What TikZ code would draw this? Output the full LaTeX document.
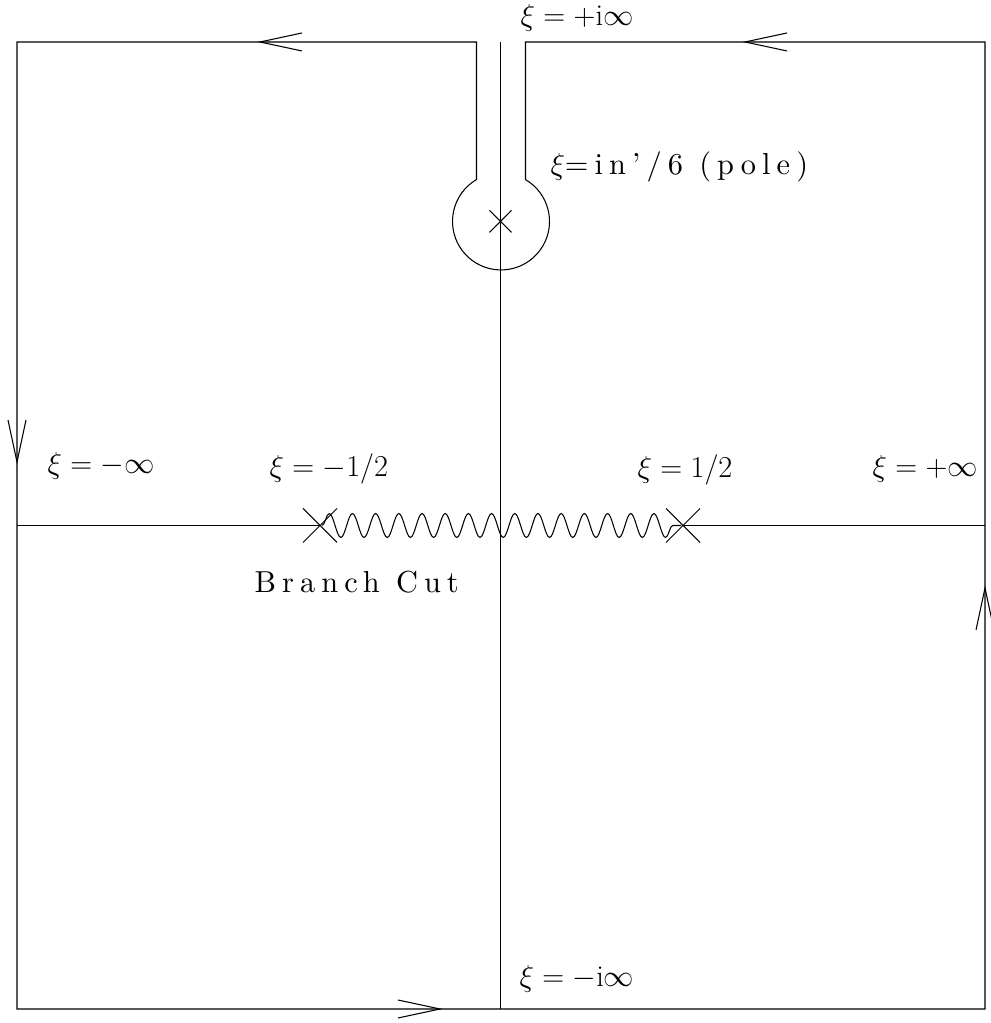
\documentclass[tikz,border=0pt]{standalone}
\usepackage{fontspec}
\newfontfamily\spacedfont{lmroman10-regular.otf}[LetterSpace=20, Ligatures=TeX]
\usetikzlibrary{decorations.pathmorphing}

% open V head at a point, turned by an angle
\newcommand{\openhead}[2]{\draw[shift={#1}, rotate=#2] (-42,9) -- (0,0) -- (-42,-9);}
% diagonal cross of half size #2
\newcommand{\crossmark}[2]{\draw[shift={#1}] (-#2,-#2) -- (#2,#2) (-#2,#2) -- (#2,-#2);}

\begin{document}
\begin{tikzpicture}[
    x=0.02cm, y=0.02cm, line width=0.6pt,
    lbl/.style={inner sep=0pt, anchor=base west, font=\fontsize{17.28}{20}\selectfont},
    spaced/.style={lbl, font=\spacedfont\fontsize{17.28}{20}\selectfont},
    wavy/.style={decorate, decoration={snake, amplitude=6.8pt, segment length=13.2pt}},
]
\useasboundingbox (0,0) rectangle (990,1023);

% ---- Points ----
\coordinate (pole) at (500.5,801.5);
\coordinate (cutl) at (320,497.5);
\coordinate (cutr) at (683,497.5);

% ---- Contour with keyhole ----
\draw (476.5,981) -- (17,981) -- (17,14) -- (985,14) -- (985,981) -- (525.5,981)
    -- (525.5,843.4) arc[start angle=59.66, end angle=-239.66, radius=48.5] -- cycle;

% ---- Axes and branch cut ----
\draw (500.5,981) -- (500.5,14);
\draw (17,497.5) -- (cutl);
\draw (cutr) -- (985,497.5);
\draw[wavy] (322,497.5) -- (681,497.5);

\crossmark{(cutl)}{17}
\crossmark{(cutr)}{17}
\crossmark{(pole)}{11}

% ---- Direction heads ----
\openhead{(260,981)}{180}
\openhead{(745,981)}{180}
\openhead{(17,561)}{-90}
\openhead{(985,435)}{90}
\openhead{(440,14)}{0}

% ---- Labels ----
\node[lbl] (iplus) at (520,997) {$\xi=+\mathrm{i}\infty$};
\node[spaced] (polelbl) at (550,848) {$\xi$=in'/6 (pole)};
\node[lbl] (mininf) at (47,549) {$\xi=-\infty$};
\node[lbl] (minhalf) at (269,546) {$\xi=-1/2$};
\node[spaced] (cutlbl) at (254,430) {Branch Cut};
\node[lbl] (plhalf) at (637,545) {$\xi=1/2$};
\node[lbl] (plinf) at (872,546) {$\xi=+\infty$};
\node[lbl] (iminus) at (519,36) {$\xi=-\mathrm{i}\infty$};

\end{tikzpicture}
\end{document}
